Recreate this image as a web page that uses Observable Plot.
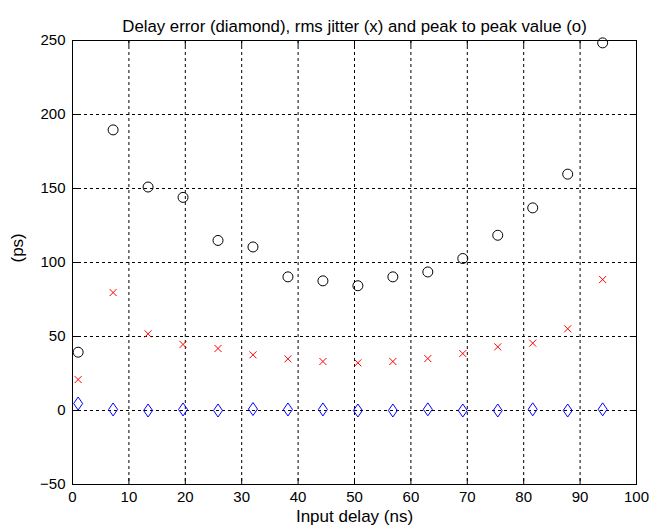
<!DOCTYPE html>
<html><head><meta charset="utf-8">
<script src="https://cdn.jsdelivr.net/npm/d3@7"></script>
<script src="https://cdn.jsdelivr.net/npm/@observablehq/plot@0.6"></script>
<style>body{margin:0;background:#fff}</style>
</head><body><div id="chart"></div>
<script>
const inputDelay = [1, 7.2, 13.4, 19.6, 25.8, 32, 38.2, 44.4, 50.6, 56.8, 63, 69.2, 75.4, 81.6, 87.8, 94];
const delayError = [4.7, 0.7, 0, 0.7, 0, 1, 0.7, 0.7, 0, 0, 0.8, 0, 0, 0.8, 0, 0.8];
const rmsJitter = [20.9, 79.7, 51.8, 44.6, 41.9, 37.6, 34.9, 33.1, 32.2, 33.1, 35.1, 38.5, 43, 45.5, 55.2, 88.5];
const peakToPeak = [39.4, 189.6, 151, 144, 114.9, 110.5, 90.3, 87.6, 84.3, 90.3, 93.6, 102.7, 118.4, 136.9, 159.7, 248.4];
const xTicks = [0, 10, 20, 30, 40, 50, 60, 70, 80, 90, 100];
const yTicks = [-50, 0, 50, 100, 150, 200, 250];
const titleText = "Delay error (diamond), rms jitter (x) and peak to peak value (o)";
const xLabel = "Input delay (ns)";
const yLabel = "(ps)";

const points = inputDelay.map((x, i) => ({x, err: delayError[i], jit: rmsJitter[i], p2p: peakToPeak[i]}));

const diamond = {draw(ctx) { ctx.moveTo(0, -6.5); ctx.lineTo(4.5, 0); ctx.lineTo(0, 6.5); ctx.lineTo(-4.5, 0); ctx.closePath(); }};
const cross = {draw(ctx) { ctx.moveTo(-3.5, -3.5); ctx.lineTo(3.5, 3.5); ctx.moveTo(3.5, -3.5); ctx.lineTo(-3.5, 3.5); }};

const chart = Plot.plot({
  width: 651, height: 532,
  marginLeft: 72, marginRight: 15, marginTop: 40, marginBottom: 48,
  style: {fontFamily: "'Liberation Sans', Arial, sans-serif", fontSize: "15px", background: "#fff", color: "#000"},
  x: {domain: [0, 100]},
  y: {domain: [-50, 250]},
  marks: [
    Plot.ruleX(xTicks, {stroke: "#000", strokeDasharray: "3,3", strokeWidth: 1}),
    Plot.ruleY(yTicks, {stroke: "#000", strokeDasharray: "3,3", strokeWidth: 1}),
    Plot.ruleY(yTicks, {x1: 0, x2: 1.1, stroke: "#000"}),
    Plot.ruleY(yTicks, {x1: 98.9, x2: 100, stroke: "#000"}),
    Plot.ruleX(xTicks, {y1: -50, y2: -46, stroke: "#000"}),
    Plot.ruleX(xTicks, {y1: 246, y2: 250, stroke: "#000"}),
    Plot.frame({stroke: "#000"}),
    Plot.axisX(xTicks, {tickSize: 0, tickPadding: 7, fontSize: 15, label: null}),
    Plot.axisY(yTicks, {tickSize: 0, tickPadding: 7, fontSize: 15, label: null}),
    Plot.dot(points, {x: "x", y: "p2p", r: 5, stroke: "#000", strokeWidth: 1, fill: "none"}),
    Plot.dot(points, {x: "x", y: "jit", symbol: cross, stroke: "#ff0000", strokeWidth: 1, fill: "none"}),
    Plot.dot(points, {x: "x", y: "err", symbol: diamond, stroke: "#0000ff", strokeWidth: 1, fill: "none"}),
    Plot.text([titleText], {frameAnchor: "top", dy: -20, fontSize: 16.8, fill: "#000"}),
    Plot.text([xLabel], {frameAnchor: "bottom", dy: 37, fontSize: 17, fill: "#000"}),
    Plot.text([yLabel], {frameAnchor: "left", dx: -55, rotate: -90, fontSize: 17, fill: "#000"})
  ]
});
document.getElementById("chart").appendChild(chart);
</script>
</body></html>
